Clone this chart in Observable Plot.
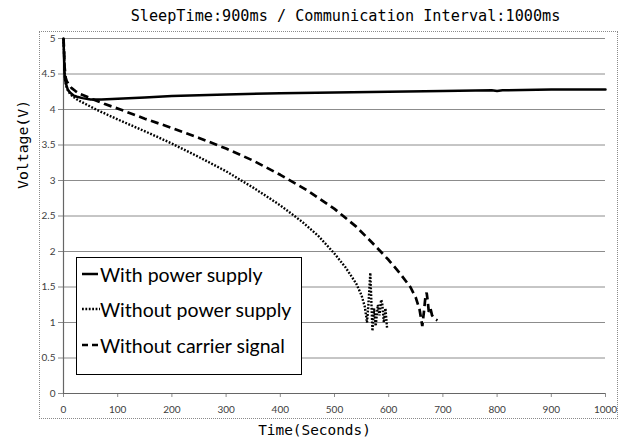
<!DOCTYPE html>
<html>
<head>
<meta charset="utf-8">
<script src="https://cdn.jsdelivr.net/npm/d3@7"></script>
<script src="https://cdn.jsdelivr.net/npm/@observablehq/plot@0.6"></script>
<style>
  html, body { margin: 0; padding: 0; background: #fff; }
  #wrap { position: relative; width: 621px; height: 441px; overflow: hidden; }
  #border { position: absolute; left: 39px; top: 31px; width: 577px; height: 386px; border: 1px dotted #8a8a8a; pointer-events: none; }
  #legend { position: absolute; left: 76px; top: 257px; width: 224px; height: 116px; border: 1.5px solid #000; background: #fff;
            font-family: Lato, "Open Sans", sans-serif; font-size: 19.5px; color: #000; }
  #legend .row { position: absolute; left: 4px; height: 24px; display: flex; align-items: center; white-space: nowrap; }
  #legend svg { width: 19px; height: 10px; margin-right: 0px; }
</style>
</head>
<body>
<div id="wrap">
  <div id="chart"></div>
  <div id="border"></div>
  <div id="legend"></div>
</div>
<script>
// ---- text ----
const titleText = "SleepTime:900ms / Communication Interval:1000ms";
const xTitle = "Time(Seconds)";
const yTitle = "Voltage(V)";
const seriesNames = ["With power supply", "Without power supply", "Without carrier signal"];

// ---- ticks ----
const xTicks = [0, 100, 200, 300, 400, 500, 600, 700, 800, 900, 1000];
const yTicks = [0, 0.5, 1, 1.5, 2, 2.5, 3, 3.5, 4, 4.5, 5];
const yTickLabels = ["0", "0.5", "1", "1.5", "2", "2.5", "3", "3.5", "4", "4.5", "5"];

// ---- series: With power supply ----
const tWith = [0, 1, 2, 3, 5, 8, 12, 18, 25, 35, 50, 70, 100, 150, 200, 250, 300, 400, 500, 600, 700, 790, 800, 810, 900, 1000];
const vWith = [5.0, 4.75, 4.5, 4.42, 4.35, 4.28, 4.24, 4.2, 4.18, 4.16, 4.14, 4.14, 4.15, 4.17, 4.19, 4.2, 4.21, 4.23, 4.24, 4.25, 4.26, 4.27, 4.26, 4.27, 4.28, 4.28];

// ---- series: Without power supply ----
const tNoPower = [0, 1, 2, 3, 5, 8, 12, 18, 25, 35, 45, 60, 80, 100, 130, 160, 200, 250, 300, 350, 400, 440, 470, 500, 520, 540, 550, 556, 560, 563, 566, 568, 570, 573, 576, 580, 583, 586, 588, 591, 594, 597];
const vNoPower = [5.0, 4.8, 4.55, 4.42, 4.33, 4.27, 4.22, 4.18, 4.14, 4.1, 4.06, 4.0, 3.93, 3.86, 3.76, 3.66, 3.52, 3.33, 3.13, 2.9, 2.65, 2.42, 2.22, 1.97, 1.78, 1.55, 1.38, 1.22, 1.0, 1.3, 1.7, 1.3, 0.88, 1.2, 0.95, 1.25, 1.1, 1.32, 1.28, 1.0, 1.2, 0.92];

// ---- series: Without carrier signal ----
const tNoCarrier = [0, 1, 2, 4, 6, 10, 15, 22, 30, 40, 55, 75, 105, 150, 200, 250, 300, 350, 400, 450, 500, 540, 570, 600, 620, 640, 650, 657, 662, 665, 668, 670, 672, 674, 677, 680, 685, 690];
const vNoCarrier = [5.0, 4.85, 4.6, 4.45, 4.4, 4.35, 4.3, 4.26, 4.22, 4.19, 4.14, 4.08, 4.0, 3.87, 3.74, 3.6, 3.45, 3.28, 3.08, 2.86, 2.6, 2.35, 2.12, 1.88, 1.7, 1.5, 1.35, 1.18, 0.95, 1.15, 1.38, 1.42, 1.3, 1.15, 1.2, 1.1, 1.05, 1.03];

const toRows = (ts, vs) => ts.map((t, i) => ({t, v: vs[i]}));
const dWith = toRows(tWith, vWith);
const dNoPower = toRows(tNoPower, vNoPower);
const dNoCarrier = toRows(tNoCarrier, vNoCarrier);

const styles = [
  {stroke: "#000", strokeWidth: 2.5, strokeDasharray: null, strokeLinecap: "round"},
  {stroke: "#000", strokeWidth: 2.4, strokeDasharray: "1.8,1.6", strokeLinecap: "butt"},
  {stroke: "#000", strokeWidth: 2.7, strokeDasharray: "8,4.5", strokeLinecap: "butt"}
];

const mono = "'DejaVu Sans Mono', monospace";

const chart = Plot.plot({
  width: 621,
  height: 441,
  marginTop: 38,
  marginRight: 16,
  marginBottom: 48,
  marginLeft: 63,
  style: {fontFamily: "Lato, 'Open Sans', sans-serif", background: "#fff", overflow: "visible"},
  x: {domain: [0, 1000]},
  y: {domain: [0, 5]},
  marks: [
    Plot.ruleY(yTicks.filter(d => d > 0), {stroke: "#8c8c8c", strokeWidth: 1}),
    Plot.axisY({ticks: yTicks, tickFormat: (d) => yTickLabels[yTicks.indexOf(d)], tickSize: 5, tickPadding: 3,
                fontSize: 10, stroke: "#8c8c8c", fill: "#404040", label: null}),
    Plot.axisX({ticks: xTicks, tickFormat: (d) => String(d), tickSize: 4, tickPadding: 8,
                fontSize: 10, stroke: "#8c8c8c", fill: "#404040", label: null}),
    Plot.ruleX([0], {stroke: "#666", strokeWidth: 1.2}),
    Plot.ruleY([0], {stroke: "#666", strokeWidth: 1.2}),
    Plot.line(dWith, {x: "t", y: "v", ...styles[0]}),
    Plot.line(dNoPower, {x: "t", y: "v", ...styles[1], strokeLinejoin: "miter"}),
    Plot.line(dNoCarrier, {x: "t", y: "v", ...styles[2], strokeLinejoin: "miter"}),
    Plot.text([titleText], {text: d => d, frameAnchor: "top", dx: 11, dy: -22, fontSize: 15.2, fontFamily: mono, fill: "#000", lineAnchor: "middle"}),
    Plot.text([xTitle], {text: d => d, frameAnchor: "bottom", dx: -20, dy: 37, fontSize: 14.4, fontFamily: mono, fill: "#000", lineAnchor: "middle"}),
    Plot.text([yTitle], {text: d => d, frameAnchor: "left", rotate: -90, dx: -40, dy: -27, fontSize: 14.8, fontFamily: mono, fill: "#000", lineAnchor: "middle"})
  ]
});
document.getElementById("chart").appendChild(chart);

// ---- legend ----
const legend = document.getElementById("legend");
const rowTops = [4, 39, 75];
seriesNames.forEach((name, i) => {
  const row = document.createElement("div");
  row.className = "row";
  row.style.top = rowTops[i] + "px";
  const s = styles[i];
  const dash = i === 2 ? "6,4" : (s.strokeDasharray || "");
  row.innerHTML = `<svg viewBox="0 0 19 10"><line x1="1" x2="${i === 0 ? 17 : 19}" y1="5" y2="5" stroke="#000" stroke-width="${s.strokeWidth}" stroke-dasharray="${dash}"/></svg><span>${name}</span>`;
  legend.appendChild(row);
});
</script>
</body>
</html>
